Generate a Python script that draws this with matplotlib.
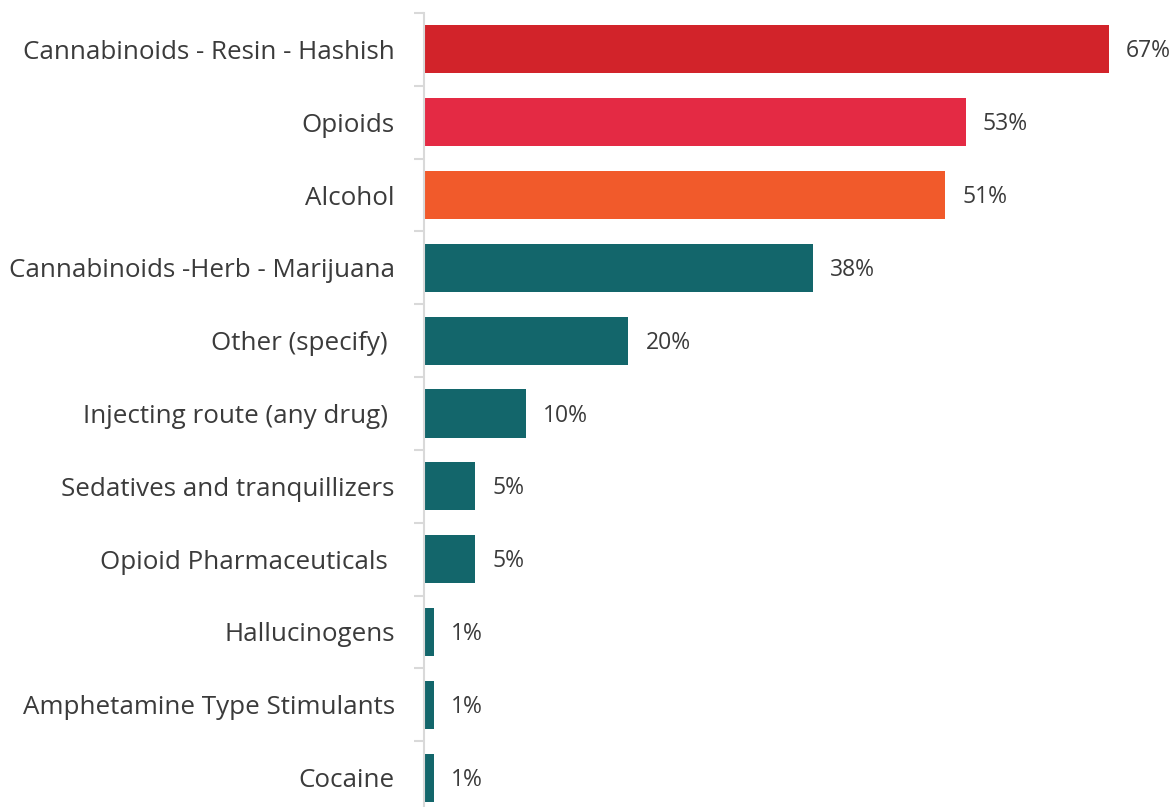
import matplotlib.pyplot as plt
import numpy as np

# Data
categories = [
    "Cannabinoids - Resin - Hashish",
    "Opioids",
    "Alcohol",
    "Cannabinoids -Herb - Marijuana",
    "Other (specify) ",
    "Injecting route (any drug) ",
    "Sedatives and tranquillizers",
    "Opioid Pharmaceuticals ",
    "Hallucinogens",
    "Amphetamine Type Stimulants",
    "Cocaine",
]
values = [67, 53, 51, 38, 20, 10, 5, 5, 1, 1, 1]
colors = ["#D2232A", "#E42A44", "#F15A2B"] + ["#13666B"] * 8

plt.rcParams['font.family'] = ['Open Sans', 'DejaVu Sans']

fig = plt.figure(figsize=(11.72, 8.07), dpi=100)
ax = fig.add_axes([424 / 1172, -7 / 807, (1109 - 424) / 1172, 801 / 807])

y = np.arange(len(categories))
ax.barh(y, values, height=0.66, color=colors, zorder=2)

ax.set_xlim(0, 67)
ax.set_ylim(len(categories) - 0.5, -0.5)

for yi, v in zip(y, values):
    ax.annotate(f"{v}%", (v, yi), xytext=(17, -2), textcoords='offset pixels',
                ha='left', va='center', fontsize=16.5, color='#3B3B3B',
                annotation_clip=False)

# category labels without ticks, boundary ticks as minor ticks
ax.set_yticks(y)
ax.set_yticklabels(categories, fontsize=18.75, color='#3B3B3B')
ax.tick_params(axis='y', which='major', length=0, pad=21)
ax.set_yticks(np.arange(-0.5, len(categories)), minor=True)
ax.tick_params(axis='y', which='minor', length=7, width=1.5, color='#D9D9D9')

ax.set_xticks([])
for s in ['top', 'right', 'bottom']:
    ax.spines[s].set_visible(False)
ax.spines['left'].set_color('#D9D9D9')
ax.spines['left'].set_linewidth(1.5)

fig.savefig('out.png', dpi=100)
